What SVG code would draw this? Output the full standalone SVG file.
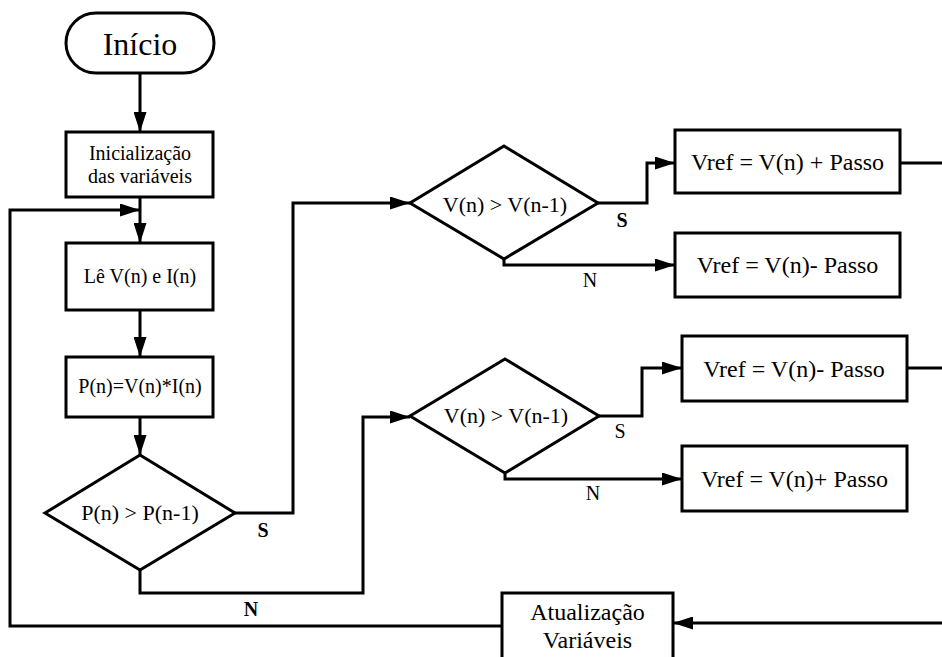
<svg xmlns="http://www.w3.org/2000/svg" width="942" height="657" viewBox="0 0 942 657" font-family="'Liberation Serif', 'DejaVu Serif', serif">
<style>
.s{fill:#fff;stroke:#000;stroke-width:3}
.c{fill:none;stroke:#000;stroke-width:3}
text{font-family:'Liberation Serif','DejaVu Serif',serif;fill:#000;text-anchor:middle}
.b{font-size:20px}
.d{font-size:22px}
.v{font-size:24px}
.l{font-size:20px}
.lb{font-size:20px;font-weight:bold}
</style>
<defs>
<marker id="ah" markerUnits="userSpaceOnUse" markerWidth="20" markerHeight="13" refX="20" refY="6.5" orient="auto" viewBox="0 0 20 13">
<path d="M0,0 L20,6.5 L0,13 z" fill="#000"/>
</marker>
</defs>
<g id="connectors">
<line class="c" x1="140" y1="73" x2="140" y2="132" marker-end="url(#ah)"/>
<line class="c" x1="140" y1="197" x2="140" y2="243" marker-end="url(#ah)"/>
<line class="c" x1="140" y1="310" x2="140" y2="357" marker-end="url(#ah)"/>
<line class="c" x1="140" y1="417" x2="140" y2="455" marker-end="url(#ah)"/>
<polyline class="c" points="235,513 293,513 293,203 410,203" marker-end="url(#ah)"/>
<polyline class="c" points="140,570 140,593 363,593 363,417 410,417" marker-end="url(#ah)"/>
<polyline class="c" points="598,203 647,203 647,163 675,163" marker-end="url(#ah)"/>
<polyline class="c" points="504,259 504,265 675,265" marker-end="url(#ah)"/>
<polyline class="c" points="599,416 642,416 642,368 682,368" marker-end="url(#ah)"/>
<polyline class="c" points="505,473 505,479 682,479" marker-end="url(#ah)"/>
<line class="c" x1="900" y1="163" x2="942" y2="163"/>
<line class="c" x1="907" y1="368" x2="942" y2="368"/>
<line class="c" x1="942" y1="623" x2="673" y2="623" marker-end="url(#ah)"/>
<polyline class="c" points="502,626 10,626 10,210 140,210" marker-end="url(#ah)"/>
<text class="lb" x="263" y="537">S</text>
<text class="lb" x="251" y="616">N</text>
<text class="lb" x="622" y="227">S</text>
<text class="l" x="590" y="287">N</text>
<text class="l" x="620" y="438">S</text>
<text class="l" x="593" y="500">N</text>
</g>
<g id="inicio">
<rect class="s" x="66" y="13" width="148" height="60" rx="30" ry="30"/>
<text x="140" y="55" style="font-size:32px">Início</text>
</g>
<g id="inicializacao">
<rect class="s" x="66" y="132" width="147" height="65"/>
<text class="b" x="140" y="160">Inicialização</text>
<text class="b" x="140" y="183">das variáveis</text>
</g>
<g id="le">
<rect class="s" x="66" y="243" width="147" height="67"/>
<text class="b" x="140" y="283">Lê V(n) e I(n)</text>
</g>
<g id="potencia">
<rect class="s" x="66" y="357" width="147" height="60"/>
<text class="b" x="140" y="393">P(n)=V(n)*I(n)</text>
</g>
<g id="decisao-p">
<polygon class="s" points="140,455 235,513 140,570 45,513"/>
<text class="d" x="140" y="520">P(n) &gt; P(n-1)</text>
</g>
<g id="decisao-v1">
<polygon class="s" points="504,146 598,203 504,259 410,203"/>
<text class="d" x="505" y="212">V(n) &gt; V(n-1)</text>
</g>
<g id="decisao-v2">
<polygon class="s" points="505,359 599,416 505,473 410,416"/>
<text class="d" x="506" y="423">V(n) &gt; V(n-1)</text>
</g>
<g id="vref1">
<rect class="s" x="675" y="130" width="225" height="63"/>
<text class="v" x="787.5" y="170">Vref = V(n) + Passo</text>
</g>
<g id="vref2">
<rect class="s" x="675" y="233" width="225" height="64"/>
<text class="v" x="787.5" y="273">Vref = V(n)- Passo</text>
</g>
<g id="vref3">
<rect class="s" x="682" y="336" width="225" height="65"/>
<text class="v" x="794" y="377">Vref = V(n)- Passo</text>
</g>
<g id="vref4">
<rect class="s" x="682" y="446" width="225" height="65"/>
<text class="v" x="794.5" y="487">Vref = V(n)+ Passo</text>
</g>
<g id="atualizacao">
<rect class="s" x="502" y="593" width="171" height="80"/>
<text class="v" x="587.5" y="620">Atualização</text>
<text class="v" x="587.5" y="648">Variáveis</text>
</g>
</svg>
